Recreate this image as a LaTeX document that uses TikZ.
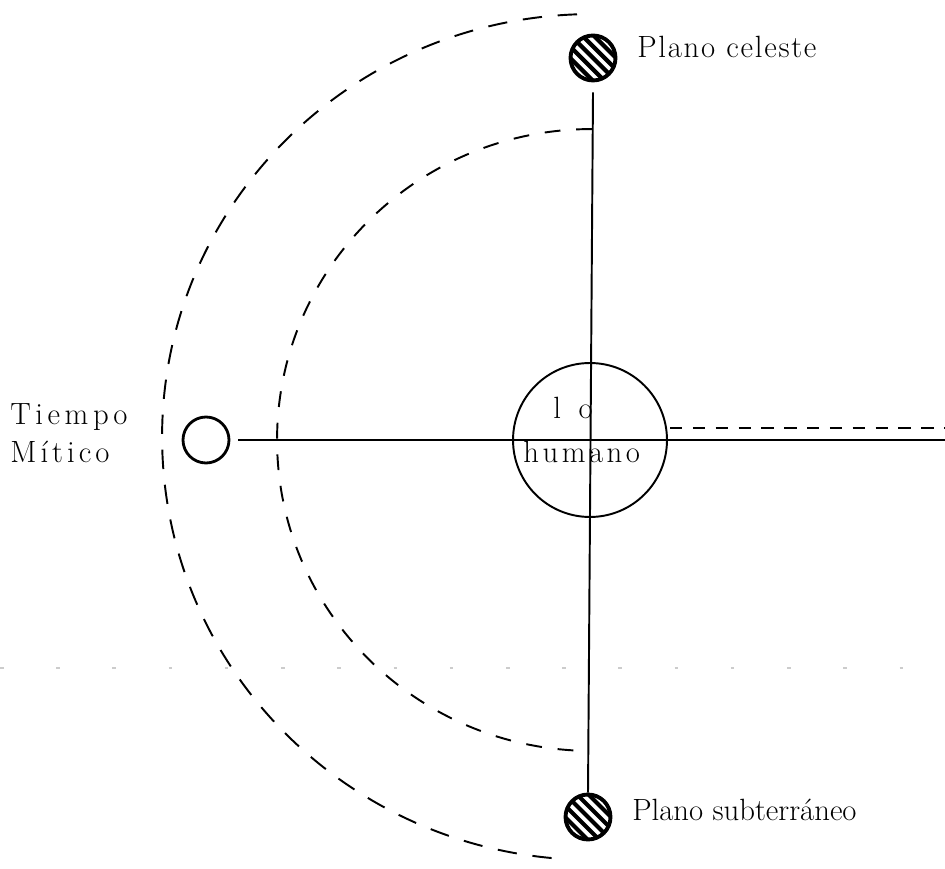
\documentclass[tikz,border=0pt]{standalone}
\usepackage{fontspec}
\usetikzlibrary{calc}
\makeatletter
\newcommand\spacedword[2]{\def\sw@k{#1}\@tfor\sw@t:=#2\do{\sw@t\kern\sw@k}}
\makeatother
\begin{document}
\begin{tikzpicture}[x=0.02cm,y=0.02cm,
  lbl/.style={font=\fontsize{17.5}{20}\selectfont, inner sep=0pt, anchor=base west},
  hatchdot/.style={circle, draw, line width=2.2pt, minimum size=0.9cm, inner sep=0pt, fill=white,
    path picture={
      \foreach \k in {-4,...,4}{
        \draw[line width=2.4pt] ($(path picture bounding box.center)+(\k*0.115cm,\k*0.115cm)+(-0.6cm,0.6cm)$) -- ++(1.2cm,-1.2cm);
      }}},
  opendot/.style={circle, draw, line width=1.6pt, minimum size=0.92cm, inner sep=0pt},
  humcircle/.style={circle, draw, line width=1.1pt, minimum size=3.08cm, inner sep=0pt},
  axis/.style={line width=1.1pt},
  outerdash/.style={line width=1.1pt, dash pattern=on 11pt off 9pt},
  innerdash/.style={line width=1.1pt, dash pattern=on 9pt off 9pt},
  rightdash/.style={line width=1.3pt, dash pattern=on 7pt off 6pt},
  faint/.style={gray!40, line width=0.6pt, dash pattern=on 2pt off 30pt},
]
\useasboundingbox (0,0) rectangle (945,868);

\node[hatchdot] (top) at (593,810) {};
\node[hatchdot] (bot) at (588,51) {};
\node[opendot] (tm) at (206,428) {};
\node[humcircle] (hum) at (590,428) {};
\coordinate (re) at (945,428);
\coordinate (ds) at (670,440);
\coordinate (de) at (945,440);
\coordinate (fl) at (0,200);
\coordinate (fr) at (945,200);

% axes
\draw[axis] ([yshift=-5.7pt]top.south) -- (bot.north);
\draw[axis] ([xshift=4.5pt]tm.east) -- (re);
\draw[rightdash] (ds) -- (de);
\draw[faint] (fl) -- (fr);

% arcs
\draw[outerdash] (592,431) ++(92:8.6cm and 8.46cm) arc[start angle=92, end angle=266, x radius=8.6cm, y radius=8.46cm];
\draw[innerdash] (592,428) ++(90:6.3cm and 6.22cm) arc[start angle=90, end angle=268, x radius=6.3cm, y radius=6.22cm];

% labels
\node[lbl] (pc) at (637,810) {\spacedword{1.0pt}{Plano}\ \spacedword{1.0pt}{celeste}};
\node[lbl] (ps) at (632,48) {\spacedword{0pt}{Plano}\ \spacedword{0pt}{subterráneo}};
\node[lbl] (t1) at (10,443) {\spacedword{2.6pt}{Tiempo}};
\node[lbl] (t2) at (10,405) {\spacedword{2.3pt}{Mítico}};
\node[lbl] (lo) at (553,449) {l\kern10pt o};
\node[lbl] (hu) at (523,405) {\spacedword{2.0pt}{humano}};
\end{tikzpicture}
\end{document}
